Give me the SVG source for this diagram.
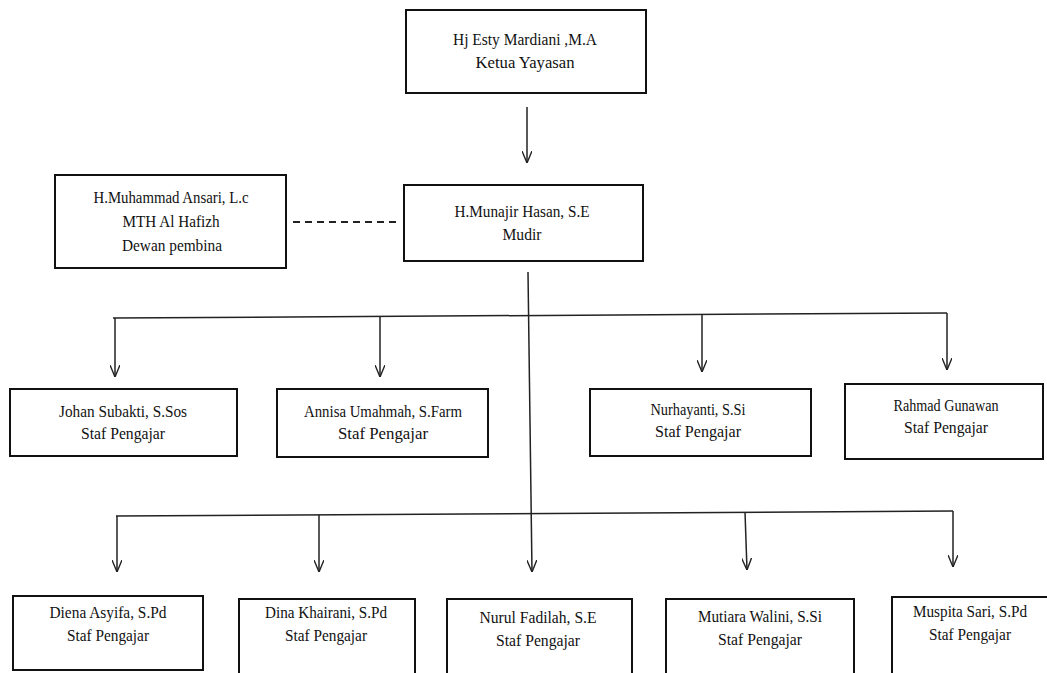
<svg xmlns="http://www.w3.org/2000/svg" width="1047" height="673" viewBox="0 0 1047 673">
<style>
.box{fill:#fff;stroke:#111;stroke-width:2}
.t{font-family:"Liberation Serif","Times New Roman",Times,serif;font-size:16px;fill:#111;text-anchor:middle}
.ln{fill:none;stroke:#222;stroke-width:1.5}
.dash{fill:none;stroke:#222;stroke-width:1.8;stroke-dasharray:7 5}
</style>
<defs>
<marker id="arr" viewBox="0 0 12 10" refX="12" refY="5" markerWidth="12" markerHeight="10" markerUnits="userSpaceOnUse" orient="auto">
<path d="M0,0 L12,5 L0,10" fill="none" stroke="#222" stroke-width="1.4"/>
</marker>
</defs>
<rect width="1047" height="673" fill="#fff"/>
<g id="connectors">
<line class="ln" x1="527" y1="107" x2="527" y2="163" marker-end="url(#arr)"/>
<line class="dash" x1="293" y1="222" x2="401" y2="222"/>
<path class="ln" d="M528,272 L532,572" marker-end="url(#arr)"/>
<path class="ln" d="M113,318 L947,313"/>
<line class="ln" x1="115" y1="318" x2="115" y2="377" marker-end="url(#arr)"/>
<line class="ln" x1="380" y1="317" x2="380" y2="377" marker-end="url(#arr)"/>
<line class="ln" x1="702" y1="315" x2="702" y2="372" marker-end="url(#arr)"/>
<line class="ln" x1="947" y1="313" x2="947" y2="370" marker-end="url(#arr)"/>
<path class="ln" d="M116,516 L953,511"/>
<line class="ln" x1="117" y1="516" x2="117" y2="572" marker-end="url(#arr)"/>
<line class="ln" x1="319" y1="515" x2="319" y2="572" marker-end="url(#arr)"/>
<path class="ln" d="M745,512 L747,570" marker-end="url(#arr)"/>
<line class="ln" x1="953" y1="511" x2="953" y2="567" marker-end="url(#arr)"/>
</g>
<g id="ketua">
<rect class="box" x="406" y="10" width="240" height="83"/>
<text class="t" x="525" y="45" textLength="144" lengthAdjust="spacingAndGlyphs">Hj Esty Mardiani ,M.A</text>
<text class="t" x="525" y="68" textLength="99" lengthAdjust="spacingAndGlyphs">Ketua Yayasan</text>
</g>
<g id="dewan">
<rect class="box" x="55" y="175" width="231" height="93"/>
<text class="t" x="171" y="203" textLength="155" lengthAdjust="spacingAndGlyphs">H.Muhammad Ansari, L.c</text>
<text class="t" x="171" y="227" textLength="97" lengthAdjust="spacingAndGlyphs">MTH Al Hafizh</text>
<text class="t" x="172" y="251" textLength="100" lengthAdjust="spacingAndGlyphs">Dewan pembina</text>
</g>
<g id="mudir">
<rect class="box" x="404" y="185" width="239" height="76"/>
<text class="t" x="522" y="217" textLength="135" lengthAdjust="spacingAndGlyphs">H.Munajir Hasan, S.E</text>
<text class="t" x="522" y="240" textLength="39" lengthAdjust="spacingAndGlyphs">Mudir</text>
</g>
<g id="johan">
<rect class="box" x="10" y="389" width="227" height="67"/>
<text class="t" x="123" y="417" textLength="128" lengthAdjust="spacingAndGlyphs">Johan Subakti, S.Sos</text>
<text class="t" x="123" y="439" textLength="84" lengthAdjust="spacingAndGlyphs">Staf Pengajar</text>
</g>
<g id="annisa">
<rect class="box" x="277" y="389" width="211" height="68"/>
<text class="t" x="383" y="417" textLength="158" lengthAdjust="spacingAndGlyphs">Annisa Umahmah, S.Farm</text>
<text class="t" x="383" y="439" textLength="90" lengthAdjust="spacingAndGlyphs">Staf Pengajar</text>
</g>
<g id="nurhayanti">
<rect class="box" x="590" y="389" width="221" height="67"/>
<text class="t" x="698" y="415" textLength="95" lengthAdjust="spacingAndGlyphs">Nurhayanti, S.Si</text>
<text class="t" x="698" y="437" textLength="86" lengthAdjust="spacingAndGlyphs">Staf Pengajar</text>
</g>
<g id="rahmad">
<rect class="box" x="845" y="384" width="198" height="75"/>
<text class="t" x="946" y="411" textLength="105" lengthAdjust="spacingAndGlyphs">Rahmad Gunawan</text>
<text class="t" x="946" y="433" textLength="84" lengthAdjust="spacingAndGlyphs">Staf Pengajar</text>
</g>
<g id="diena">
<rect class="box" x="13" y="596" width="190" height="74"/>
<text class="t" x="108" y="618" textLength="117" lengthAdjust="spacingAndGlyphs">Diena Asyifa, S.Pd</text>
<text class="t" x="108" y="641" textLength="82" lengthAdjust="spacingAndGlyphs">Staf Pengajar</text>
</g>
<g id="dina">
<rect class="box" x="239" y="599" width="176" height="80"/>
<text class="t" x="326" y="618" textLength="122" lengthAdjust="spacingAndGlyphs">Dina Khairani, S.Pd</text>
<text class="t" x="326" y="641" textLength="82" lengthAdjust="spacingAndGlyphs">Staf Pengajar</text>
</g>
<g id="nurul">
<rect class="box" x="447" y="599" width="185" height="80"/>
<text class="t" x="538" y="623" textLength="117" lengthAdjust="spacingAndGlyphs">Nurul Fadilah, S.E</text>
<text class="t" x="538" y="646" textLength="84" lengthAdjust="spacingAndGlyphs">Staf Pengajar</text>
</g>
<g id="mutiara">
<rect class="box" x="666" y="599" width="188" height="80"/>
<text class="t" x="760" y="622" textLength="124" lengthAdjust="spacingAndGlyphs">Mutiara Walini, S.Si</text>
<text class="t" x="760" y="645" textLength="84" lengthAdjust="spacingAndGlyphs">Staf Pengajar</text>
</g>
<g id="muspita">
<rect class="box" x="892" y="597" width="160" height="82"/>
<text class="t" x="970" y="617" textLength="114" lengthAdjust="spacingAndGlyphs">Muspita Sari, S.Pd</text>
<text class="t" x="970" y="640" textLength="82" lengthAdjust="spacingAndGlyphs">Staf Pengajar</text>
</g>
</svg>
